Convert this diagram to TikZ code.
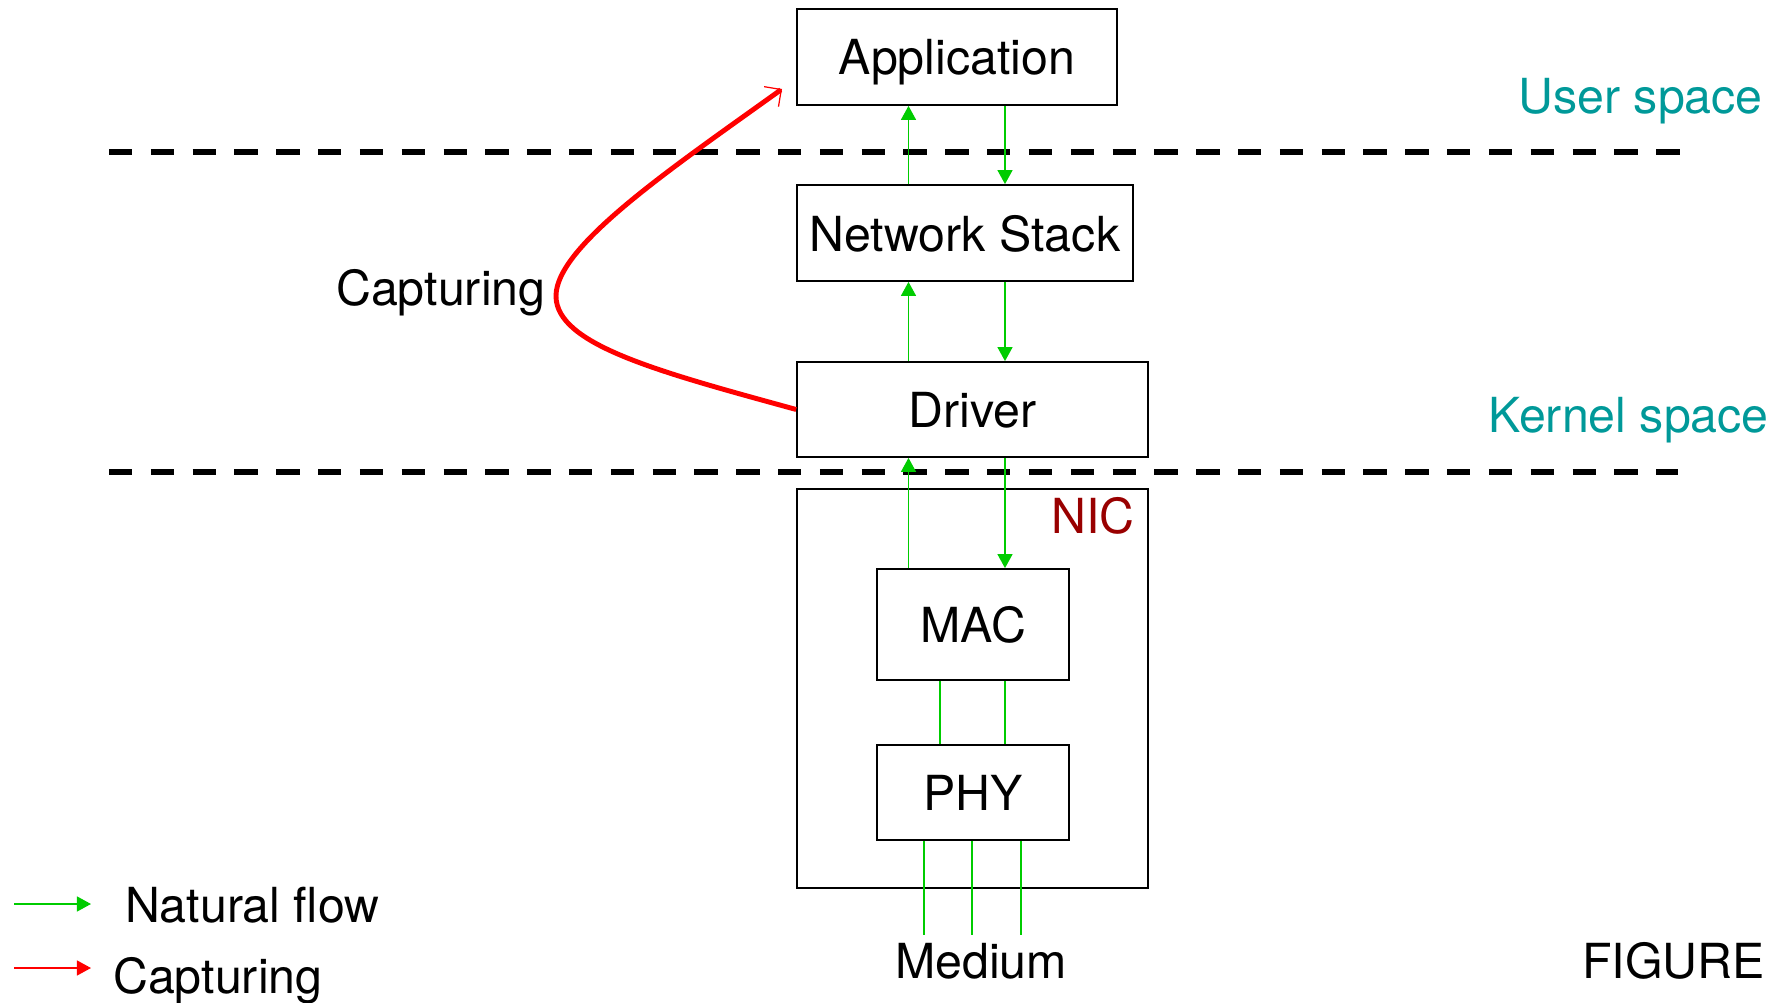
\documentclass[tikz,border=0pt]{standalone}
\usepackage{fontspec}
\setmainfont{TeX Gyre Heros}
\usetikzlibrary{arrows.meta}
\definecolor{flowgreen}{RGB}{0,204,0}
\definecolor{spaceteal}{RGB}{0,153,153}
\definecolor{nicred}{RGB}{153,0,0}

\begin{document}
\begin{tikzpicture}[x=0.02cm, y=-0.02cm,
    font=\fontsize{27.5}{33}\selectfont,
    layer/.style={draw, line width=1pt, inner sep=0pt, text depth=0pt},
    flow/.style={flowgreen, line width=0.95pt, -{Triangle[length=8pt,width=8.5pt]}},
    wire/.style={flowgreen, line width=0.95pt},
    border/.style={line width=3.4pt, dash pattern=on 13.3pt off 10.5pt},
    capture/.style={red, line width=2.8pt, -{Straight Barb[length=7pt,width=14pt,line width=0.7pt]}},
    capsample/.style={red, line width=0.95pt, -{Triangle[length=8pt,width=8.5pt]}}]
    \useasboundingbox (0,0) rectangle (1783,1003);

    % Draw the layers
    \node[layer, minimum width=6.4cm, minimum height=1.92cm] (app) at (957,57) {Application};
    \node[layer, minimum width=6.72cm, minimum height=1.92cm] (stack) at (965,233) {Network Stack};
    \node[layer, minimum width=7.02cm, minimum height=1.9cm] (drv) at (972.5,409.5) {Driver};
    \node[layer, minimum width=7.02cm, minimum height=7.98cm] (nic) at (972.5,688.5) {};
    \node[layer, minimum width=3.84cm, minimum height=2.22cm] (mac) at (973,624.5) {MAC};
    \node[layer, minimum width=3.84cm, minimum height=1.9cm] (phy) at (973,792.5) {PHY};
    \node[anchor=base east, nicred] (niclbl) at (1141,534) {NIC};
    \node[anchor=base, inner ysep=4pt] (med) at (981,978) {Medium};

    % Space boundaries
    \draw[border] (109,152) -- (1687,152);
    \draw[border] (109,472) -- (1678,472);
    \node[anchor=base east, spaceteal] (user) at (1769,114) {User space};
    \node[anchor=base east, spaceteal] (kernel) at (1775,433) {Kernel space};

    % Natural flow between the layers
    \coordinate (upx) at (908.5,0);
    \coordinate (dnx) at (1005,0);
    \draw[flow] (stack.north -| upx) -- (app.south -| upx);
    \draw[flow] (app.south -| dnx) -- (stack.north -| dnx);
    \draw[flow] (drv.north -| upx) -- (stack.south -| upx);
    \draw[flow] (stack.south -| dnx) -- (drv.north -| dnx);
    \draw[flow] (mac.north -| upx) -- (drv.south -| upx);
    \draw[flow] (drv.south -| dnx) -- (mac.north -| dnx);
    \foreach \x in {940,1005}
        \draw[wire] (mac.south -| \x,0) -- (phy.north -| \x,0);
    \foreach \x in {924,972,1021}
        \draw[wire] (phy.south -| \x,0) -- (med.north -| \x,0);

    % Capturing path
    \coordinate (captip) at (782,89);
    \draw[capture] (drv.west) .. controls (660,372) and (556,345) .. (556,296)
        .. controls (556,246) and (672,168) .. (captip);
    \node[anchor=base west] (caplbl) at (330,306) {Capturing};

    % Legend
    \coordinate (natA) at (14,904);
    \coordinate (natB) at (91,904);
    \coordinate (capA) at (14,968);
    \coordinate (capB) at (91,968);
    \draw[flow] (natA) -- (natB);
    \draw[capsample] (capA) -- (capB);
    \node[anchor=base west] (natlbl) at (119,922) {Natural flow};
    \node[anchor=base west] (caplgd) at (107,993) {Capturing};

    \node[anchor=base east] (fig) at (1771,978) {FIGURE};
\end{tikzpicture}
\end{document}
